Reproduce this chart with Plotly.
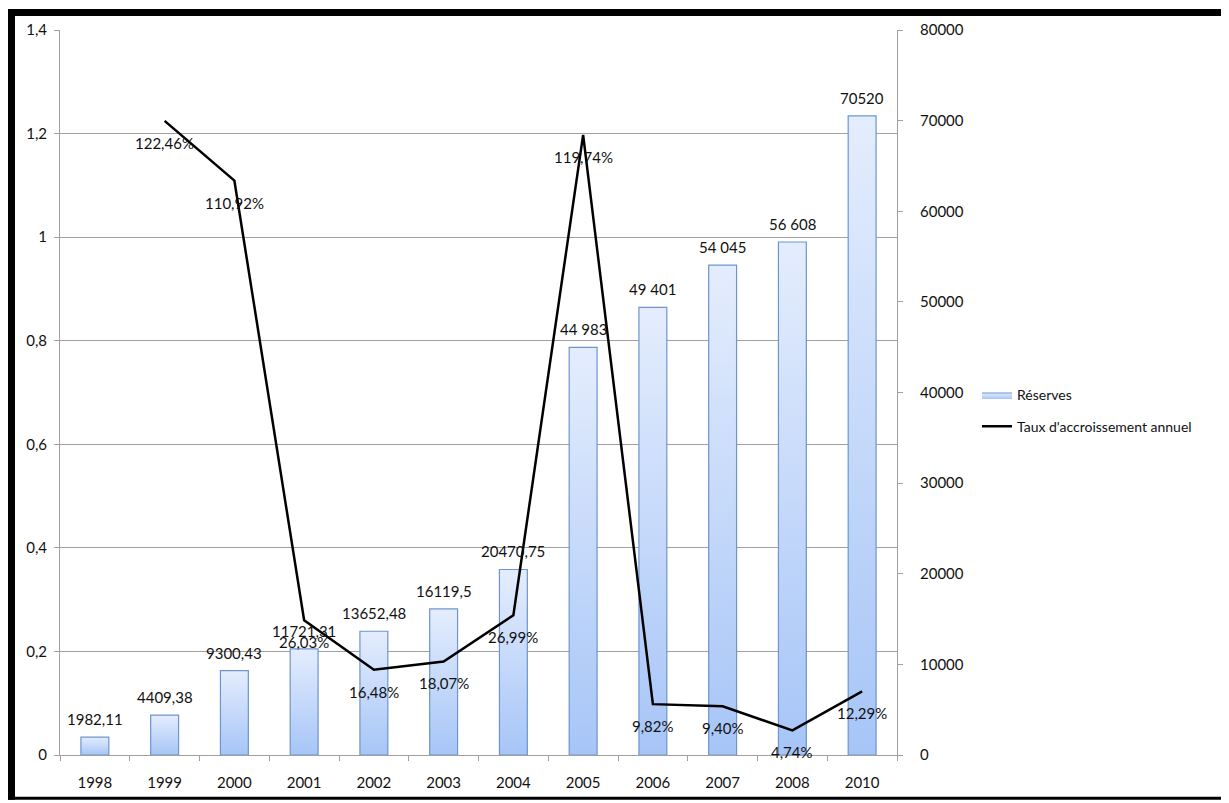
import plotly.graph_objects as go

# ---------------- data ----------------
years = ["1998", "1999", "2000", "2001", "2002", "2003", "2004",
         "2005", "2006", "2007", "2008", "2010"]
reserves = [1982.11, 4409.38, 9300.43, 11721.31, 13652.48, 16119.5,
            20470.75, 44983, 49401, 54045, 56608, 70520]
reserve_labels = ["1982,11", "4409,38", "9300,43", "11721,31", "13652,48",
                  "16119,5", "20470,75", "44 983", "49 401", "54 045",
                  "56 608", "70520"]
growth = [None, 1.2246, 1.1092, 0.2603, 0.1648, 0.1807, 0.2699,
          1.1974, 0.0982, 0.0940, 0.0474, 0.1229]
growth_labels = [None, "122,46%", "110,92%", "26,03%", "16,48%", "18,07%",
                 "26,99%", "119,74%", "9,82%", "9,40%", "4,74%", "12,29%"]
left_tickvals = [0, 0.2, 0.4, 0.6, 0.8, 1.0, 1.2, 1.4]
left_ticktext = ["0", "0,2", "0,4", "0,6", "0,8", "1", "1,2", "1,4"]
right_tickvals = [0, 10000, 20000, 30000, 40000, 50000, 60000, 70000, 80000]
right_ticktext = ["0", "10000", "20000", "30000", "40000", "50000",
                  "60000", "70000", "80000"]

# ---------------- style ----------------
OFF = 8                      # page body margin of the browser
W, H = 1229 - OFF, 803 - OFF
ML, MR, MT, MB = 52, 332, 21, 45
FONT = "Lato"
FS = 15
TXT = "#111111"
GRID = "#a0a0a0"
BAR_TOP = "#e4edfd"
BAR_BOT = "#a6c5f7"
BAR_EDGE = "#6e95cd"
HALF = 0.2

xidx = list(range(len(years)))

fig = go.Figure()

# bars drawn as gradient-filled rectangles on the right (main) axis
for i, v in zip(xidx, reserves):
    fig.add_trace(go.Scatter(
        x=[i - HALF, i + HALF, i + HALF, i - HALF, i - HALF],
        y=[0, 0, v, v, 0],
        mode="lines",
        fill="toself",
        fillgradient=dict(type="vertical",
                          colorscale=[[0, BAR_BOT], [1, BAR_TOP]]),
        line=dict(color=BAR_EDGE, width=1.2),
        name="Réserves",
        legendgroup="res",
        showlegend=(i == 0),
        hoverinfo="skip",
        yaxis="y",
    ))

# growth line on the left axis (overlay)
fig.add_trace(go.Scatter(
    x=xidx, y=growth, mode="lines",
    line=dict(color="black", width=2.5),
    name="Taux d'accroissement annuel",
    legendgroup="rate",
    yaxis="y2",
    connectgaps=False,
))

annotations = []
for i, v, t in zip(xidx, reserves, reserve_labels):
    annotations.append(dict(x=i, y=v, xref="x", yref="y", text=t,
                            showarrow=False, yshift=18,
                            font=dict(family=FONT, size=FS, color=TXT)))
for i, v, t in zip(xidx, growth, growth_labels):
    if v is None:
        continue
    annotations.append(dict(x=i, y=v, xref="x", yref="y2", text=t,
                            showarrow=False, yshift=-22,
                            font=dict(family=FONT, size=FS, color=TXT)))

pw = W - ML - MR
ph = H - MT - MB


def px_x(p):
    # page pixel -> paper coordinate
    return (p - OFF - ML) / pw


def px_y(p):
    return (H - MB - (p - OFF)) / ph


frame = [
    (8, 8, 1229, 15),      # top band
    (8, 8, 15, 803),       # left band
    (1225, 8, 1229, 803),  # right band
    (8, 800, 1229, 803),   # bottom band
]
shapes = []
for x0, y0, x1, y1 in frame:
    shapes.append(dict(type="rect", xref="paper", yref="paper",
                       x0=px_x(x0), x1=px_x(x1), y0=px_y(y1), y1=px_y(y0),
                       fillcolor="black", line=dict(width=0), layer="above"))

fig.update_layout(
    width=W, height=H,
    margin=dict(l=ML, r=MR, t=MT, b=MB),
    paper_bgcolor="white", plot_bgcolor="white",
    font=dict(family=FONT, size=FS, color=TXT),
    showlegend=True,
    legend=dict(x=px_x(977), y=px_y(412), xanchor="left", yanchor="middle",
                traceorder="grouped", tracegroupgap=10,
                font=dict(family=FONT, size=FS - 1, color=TXT),
                bgcolor="rgba(0,0,0,0)", itemwidth=30),
    xaxis=dict(range=[-0.5, len(years) - 0.5],
               tickmode="array", tickvals=xidx, ticktext=years,
               ticks="", showgrid=False, zeroline=False,
               showline=True, linecolor=GRID, linewidth=1,
               ticklabelstandoff=14,
               minor=dict(tickmode="linear", tick0=-0.5, dtick=1,
                          ticks="outside", ticklen=5, tickcolor=GRID,
                          showgrid=False),
               tickfont=dict(family=FONT, size=FS, color=TXT)),
    yaxis=dict(range=[0, 80000], side="right",
               tickmode="array", tickvals=right_tickvals,
               ticktext=right_ticktext,
               ticks="outside", ticklen=5, tickcolor=GRID,
               showgrid=False, zeroline=False,
               showline=True, linecolor=GRID, linewidth=1,
               ticklabelstandoff=14,
               tickfont=dict(family=FONT, size=FS, color=TXT)),
    yaxis2=dict(range=[0, 1.4], side="left", overlaying="y",
                tickmode="array", tickvals=left_tickvals,
                ticktext=left_ticktext,
                ticks="outside", ticklen=5, tickcolor=GRID,
                showgrid=True, gridcolor=GRID, gridwidth=1,
                zeroline=False,
                showline=True, linecolor=GRID, linewidth=1,
                ticklabelstandoff=4,
                tickfont=dict(family=FONT, size=FS, color=TXT)),
    annotations=annotations,
    shapes=shapes,
)

fig.write_html("out.html")
